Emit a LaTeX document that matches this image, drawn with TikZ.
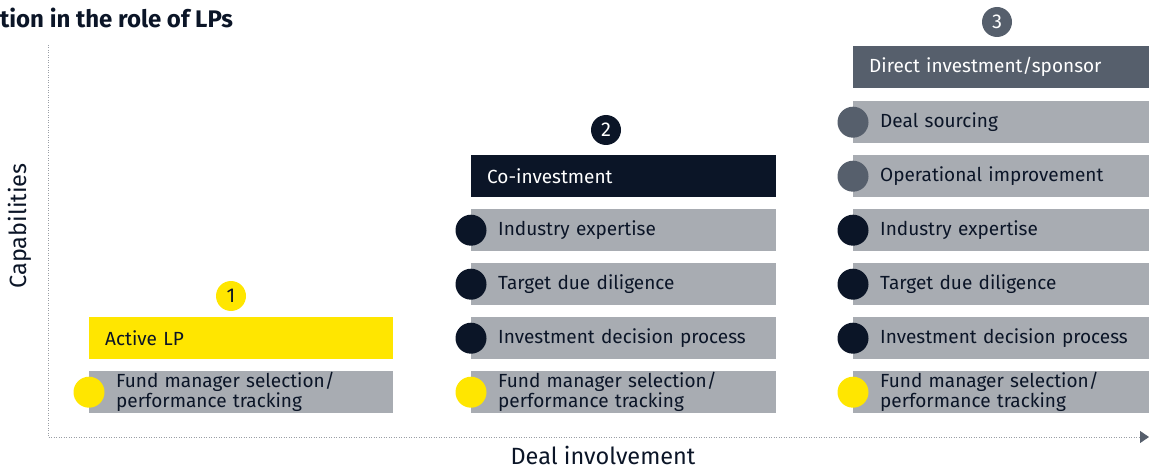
\documentclass[tikz,border=0pt]{standalone}
\usepackage{fontspec}
\setmainfont{Fira Sans}
\usetikzlibrary{arrows.meta}
\definecolor{eyyellow}{HTML}{FFE600}
\definecolor{eynavy}{HTML}{0B1527}
\definecolor{eygray}{HTML}{A8ACB2}
\definecolor{eyslate}{HTML}{565F6C}
\definecolor{axisgray}{HTML}{9A9EA5}

\begin{document}
\begin{tikzpicture}[x=1pt,y=-1pt]
		\tikzset{item/.style={anchor=north west,fill=eygray,text=eynavy,minimum height=42pt,
				inner xsep=27pt,inner ysep=0pt,text width=251pt,align=left,
				font=\fontsize{19}{20}\selectfont}};
		\tikzset{head/.style={item,inner xsep=16pt,text width=273pt}};
		\tikzset{dot/.style={circle,minimum size=31pt,inner sep=0pt}};
		\tikzset{num/.style={circle,minimum size=30pt,inner sep=0pt,font=\fontsize{20}{20}\selectfont}};
		
		\useasboundingbox (0,0) rectangle (1149,468);
		
		% axes
		\coordinate (ytop) at (48,45);
		\coordinate (o) at (48,437);
		\coordinate (xend) at (1149,437);
		\draw [axisgray,line width=1pt,dash pattern=on 1pt off 1.5pt,
			-{Triangle[length=9pt,width=12pt,color=eyslate]}] (ytop) -- (o) -- (xend);
		\node (ylab) at (20,226) [rotate=90,text=eynavy,font=\fontsize{23.5}{26}\selectfont]{Capabilities};
		\node (xlab) at (603,455) [text=eynavy,font=\fontsize{23.5}{26}\selectfont]{Deal involvement};
		\node (title) at (0,28) [anchor=base west,inner sep=0pt,text=eynavy,font=\fontsize{24}{26}\bfseries\selectfont]{tion in the role of LPs};
		
		% 1: active LP
		\node (lp) at (89,317) [head,fill=eyyellow,text width=272pt]{Active LP};
		\node (lpfund) at (89,371) [item,text width=250pt]{Fund manager selection/\\performance tracking};
		\node (lpdot) at (lpfund.west) [dot,fill=eyyellow]{};
		\node (n1) at (231,296) [num,fill=eyyellow,text=eynavy]{1};
		
		% 2: co-investment
		\node (co) at (471,155) [head,fill=eynavy,text=white]{Co-investment};
		\foreach \y/\t [count=\i] in {209/Industry expertise,263/Target due diligence,317/Investment decision process}
		{
			\node (co\i) at (471,\y) [item]{\t};
			\node (codot\i) at (co\i.west) [dot,fill=eynavy]{};
		}
		\node (cofund) at (471,371) [item]{Fund manager selection/\\performance tracking};
		\node (codot4) at (cofund.west) [dot,fill=eyyellow]{};
		\node (n2) at (606,130) [num,fill=eynavy,text=white]{2};
		
		% 3: direct investment/sponsor
		\node (di) at (853,46) [head,fill=eyslate,text=white]{Direct investment/sponsor};
		\foreach \y/\t/\c [count=\i] in {101/Deal sourcing/eyslate,155/Operational improvement/eyslate,
			209/Industry expertise/eynavy,263/Target due diligence/eynavy,317/Investment decision process/eynavy}
		{
			\node (di\i) at (853,\y) [item]{\t};
			\node (didot\i) at (di\i.west) [dot,fill=\c]{};
		}
		\node (difund) at (853,371) [item]{Fund manager selection/\\performance tracking};
		\node (didot6) at (difund.west) [dot,fill=eyyellow]{};
		\node (n3) at (997,22) [num,fill=eyslate,text=white]{3};
		\end{tikzpicture}
\end{document}
